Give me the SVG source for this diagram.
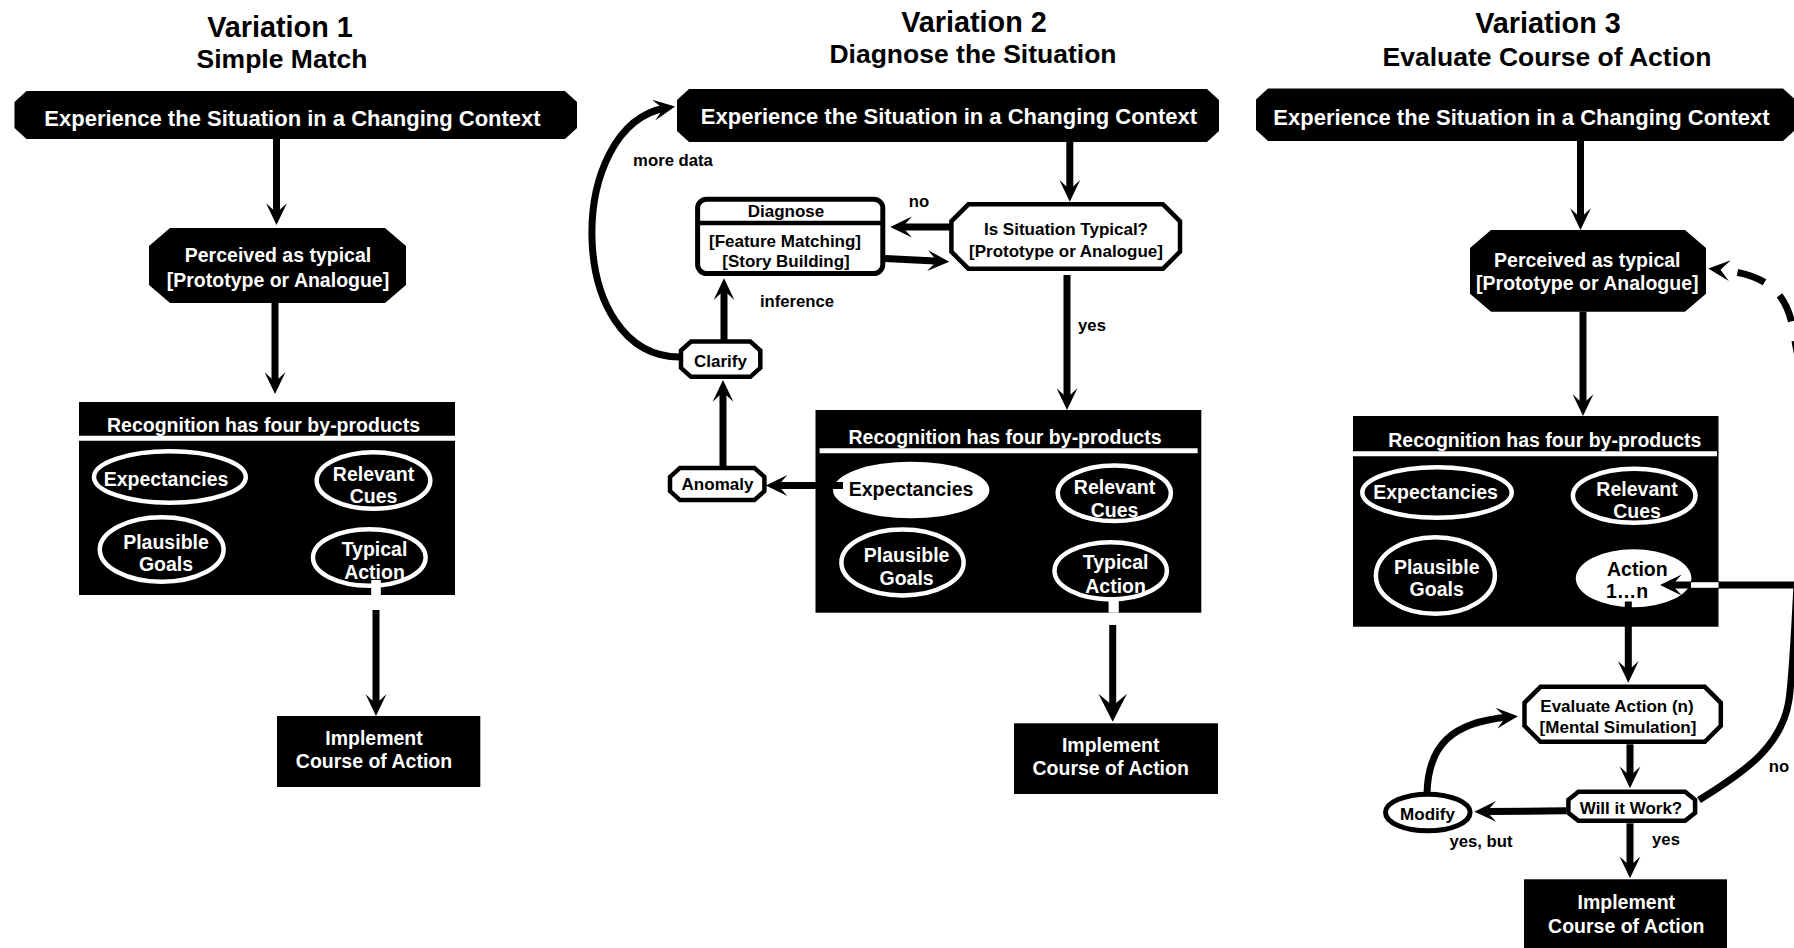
<svg xmlns="http://www.w3.org/2000/svg" width="1794" height="948" viewBox="0 0 1794 948">
<style>
text{font-family:"Liberation Sans",Arial,Helvetica,sans-serif;font-weight:bold;text-anchor:middle}
.t1{font-size:28.8px;fill:#000}
.t2{font-size:26.5px;fill:#000}
.tb{font-size:22px;fill:#fff}
.w{font-size:19.5px;fill:#fff}
.k{font-size:19.5px;fill:#000}
.s{font-size:17px;fill:#000}
.e{font-size:16.7px;fill:#000}
.blk{fill:#000}
.oct{fill:#fff;stroke:#000;stroke-width:4.5}
.ov{fill:#000;stroke:#fff;stroke-width:4.5}
.wf{fill:#fff}
.sep{stroke:#fff;stroke-width:5}
.c{fill:none;stroke:#000;stroke-width:7}
.cw{fill:none;stroke:#fff}
</style>
<defs>
<marker id="ah" markerUnits="userSpaceOnUse" viewBox="-13 -11 23 22" markerWidth="23" markerHeight="22" refX="0" refY="0" orient="auto-start-reverse"><path d="M9.3,0 L-12.4,-10.4 L-3,0 L-12.4,10.4 Z" fill="#000"/></marker>
<marker id="ahL" markerUnits="userSpaceOnUse" viewBox="-17 -15 30 30" markerWidth="30" markerHeight="30" refX="0" refY="0" orient="auto"><path d="M12,0 L-16,-14.3 L-4,0 L-16,14.3 Z" fill="#000"/></marker>
</defs>

<g id="titles">
<text class="t1" x="280" y="37">Variation 1</text>
<text class="t2" x="282" y="68">Simple Match</text>
<text class="t1" x="974" y="32">Variation 2</text>
<text class="t2" x="973" y="63">Diagnose the Situation</text>
<text class="t1" x="1548" y="33">Variation 3</text>
<text class="t2" x="1547" y="66">Evaluate Course of Action</text>
</g>

<!-- Variation 1 -->
<g id="v1-experience">
<polygon class="blk" points="26.5,91 565,91 577,102 577,128 565,139 26.5,139 14.5,128 14.5,102"/>
<text class="tb" x="292.5" y="126">Experience the Situation in a Changing Context</text>
</g>
<g id="v1-perceived">
<polygon class="blk" points="170,228 385,228 406,246 406,285 385,303 170,303 149,285 149,246"/>
<text class="w" x="278" y="262">Perceived as typical</text>
<text class="w" x="278" y="287">[Prototype or Analogue]</text>
</g>
<g id="v1-recognition">
<rect class="blk" x="79" y="402" width="376" height="193"/>
<line class="sep" x1="79" y1="438.2" x2="455" y2="438.2"/>
<text class="w" x="263.5" y="431.7">Recognition has four by-products</text>
<ellipse class="ov" cx="169.9" cy="477" rx="75.9" ry="25.8"/>
<text class="w" x="166" y="486">Expectancies</text>
<ellipse class="ov" cx="373.5" cy="480.5" rx="56.8" ry="28.3"/>
<text class="w" x="373.5" y="481">Relevant</text>
<text class="w" x="373.5" y="503">Cues</text>
<ellipse class="ov" cx="161.7" cy="549.5" rx="61.9" ry="32.3"/>
<text class="w" x="166" y="549">Plausible</text>
<text class="w" x="166" y="571">Goals</text>
<ellipse class="ov" cx="369.3" cy="557.5" rx="56.3" ry="28.3"/>
<text class="w" x="374.5" y="556">Typical</text>
<text class="w" x="374.5" y="579">Action</text>
</g>
<g id="v1-implement">
<rect class="blk" x="277" y="716" width="203.3" height="71"/>
<text class="w" x="374" y="745">Implement</text>
<text class="w" x="374" y="768">Course of Action</text>
</g>

<!-- Variation 2 -->
<g id="v2-experience">
<polygon class="blk" points="689,89 1207,89 1219,100 1219,131 1207,142 689,142 677,131 677,100"/>
<text class="tb" x="949" y="123.5">Experience the Situation in a Changing Context</text>
</g>
<g id="v2-typical">
<polygon class="oct" stroke-width="4" points="968.4,204.3 1163,204.3 1180,221.3 1180,251.7 1163,268.7 968.4,268.7 951.4,251.7 951.4,221.3"/>
<text class="s" x="1066" y="235">Is Situation Typical?</text>
<text class="s" x="1066" y="256.7">[Prototype or Analogue]</text>
</g>
<g id="v2-diagnose">
<rect x="697.6" y="199.2" width="185.2" height="74.3" rx="9" fill="#fff" stroke="#000" stroke-width="5"/>
<line x1="697.6" y1="223" x2="882.8" y2="223" stroke="#000" stroke-width="4.5"/>
<text class="s" x="786" y="217">Diagnose</text>
<text class="s" x="785" y="246.7">[Feature Matching]</text>
<text class="s" x="786" y="266.7">[Story Building]</text>
</g>
<g id="v2-clarify">
<polygon class="oct" points="691,341.5 750.3,341.5 760.3,350.5 760.3,367.8 750.3,376.8 691,376.8 681,367.8 681,350.5"/>
<text class="s" x="720.5" y="366.7">Clarify</text>
</g>
<g id="v2-anomaly">
<polygon class="oct" points="680,467.9 754.4,467.9 764.4,476.9 764.4,491.1 754.4,500.1 680,500.1 670,491.1 670,476.9"/>
<text class="s" x="717.5" y="490">Anomaly</text>
</g>
<g id="v2-recognition">
<rect class="blk" x="815.5" y="410" width="385.8" height="202.7"/>
<line class="sep" x1="819.6" y1="450.8" x2="1197.6" y2="450.8"/>
<text class="w" x="1005" y="444.3">Recognition has four by-products</text>
<ellipse class="wf" cx="911.2" cy="490" rx="78.2" ry="28.3"/>
<text class="k" x="911" y="496">Expectancies</text>
<ellipse class="ov" cx="1114.3" cy="493.3" rx="56.6" ry="27.8"/>
<text class="w" x="1114.5" y="494">Relevant</text>
<text class="w" x="1114.5" y="516.7">Cues</text>
<ellipse class="ov" cx="902.5" cy="562.5" rx="61.1" ry="33"/>
<text class="w" x="906.6" y="561.7">Plausible</text>
<text class="w" x="906.6" y="585">Goals</text>
<ellipse class="ov" cx="1110.7" cy="570.8" rx="56.2" ry="28.6"/>
<text class="w" x="1115.6" y="569.3">Typical</text>
<text class="w" x="1115.6" y="592.7">Action</text>
</g>
<g id="v2-implement">
<rect class="blk" x="1014" y="723.3" width="204" height="70.7"/>
<text class="w" x="1110.7" y="751.7">Implement</text>
<text class="w" x="1110.7" y="775">Course of Action</text>
</g>

<!-- Variation 3 -->
<g id="v3-experience">
<polygon class="blk" points="1268,88.5 1783,88.5 1795,99.5 1795,130 1783,141 1268,141 1256,130 1256,99.5"/>
<text class="tb" x="1521.5" y="125">Experience the Situation in a Changing Context</text>
</g>
<g id="v3-perceived">
<polygon class="blk" points="1491,230 1685,230 1706,248 1706,293.7 1685,311.7 1491,311.7 1470,293.7 1470,248"/>
<text class="w" x="1587.3" y="266.7">Perceived as typical</text>
<text class="w" x="1587.3" y="290">[Prototype or Analogue]</text>
</g>
<g id="v3-recognition">
<rect class="blk" x="1353" y="416" width="365.5" height="210.7"/>
<line class="sep" x1="1353" y1="453.8" x2="1717" y2="453.8"/>
<text class="w" x="1544.8" y="447.3">Recognition has four by-products</text>
<ellipse class="ov" cx="1437" cy="492.5" rx="74.7" ry="25.3"/>
<text class="w" x="1435.5" y="499.3">Expectancies</text>
<ellipse class="ov" cx="1634.2" cy="495.8" rx="61.3" ry="27"/>
<text class="w" x="1637" y="496">Relevant</text>
<text class="w" x="1637" y="518.3">Cues</text>
<ellipse class="ov" cx="1435.4" cy="575.5" rx="59.5" ry="38.3"/>
<text class="w" x="1436.7" y="574.3">Plausible</text>
<text class="w" x="1436.7" y="596">Goals</text>
<ellipse class="wf" cx="1633.6" cy="578.3" rx="57.8" ry="29"/>
<text class="k" x="1607" y="576" style="text-anchor:start">Action</text>
<text class="k" x="1606" y="598.3" style="text-anchor:start">1…n</text>
</g>
<g id="v3-evaluate">
<polygon class="oct" stroke-width="5" points="1540.5,686.8 1704.8,686.8 1720.8,702.8 1720.8,725.8 1704.8,741.8 1540.5,741.8 1524.5,725.8 1524.5,702.8"/>
<text class="s" x="1617" y="711.7">Evaluate Action (n)</text>
<text class="s" x="1618" y="732.7">[Mental Simulation]</text>
</g>
<g id="v3-willitwork">
<polygon class="oct" stroke-width="5" points="1578.4,791.8 1685.1,791.8 1695.1,799.8 1695.1,812.8 1685.1,820.8 1578.4,820.8 1568.4,812.8 1568.4,799.8"/>
<text class="s" x="1631" y="814">Will it Work?</text>
</g>
<g id="v3-modify">
<ellipse cx="1427.8" cy="812.5" rx="42.3" ry="18.3" fill="#fff" stroke="#000" stroke-width="5"/>
<text class="s" x="1427.5" y="820">Modify</text>
</g>
<g id="v3-implement">
<rect class="blk" x="1524" y="879.3" width="203" height="70"/>
<text class="w" x="1626.3" y="909.3">Implement</text>
<text class="w" x="1626.3" y="932.7">Course of Action</text>
</g>

<g id="connectors">
<!-- V1 -->
<path class="c" d="M276.5,139 L276.5,215.7" marker-end="url(#ah)"/>
<path class="c" d="M275,303 L275,384.7" marker-end="url(#ah)"/>
<path class="cw" stroke-width="9.6" d="M376,580 L376,595"/>
<path class="c" d="M376,610 L376,706.7" marker-end="url(#ah)"/>
<!-- V2 -->
<path class="c" d="M1069.8,142 L1069.8,192.4" marker-end="url(#ah)"/>
<path class="c" stroke-width="8" d="M951,227 L899.5,227" marker-end="url(#ah)"/>
<path class="c" stroke-width="9" d="M885,258.5 L940,261.2" marker-end="url(#ah)"/>
<path class="c" d="M1067,275 L1067,400.7" marker-end="url(#ah)"/>
<path class="c" stroke-width="6.5" d="M843,485.5 L775,485.5" marker-end="url(#ah)"/>
<path class="c" d="M723,467 L723,389.3" marker-end="url(#ah)"/>
<path class="c" d="M724,340 L724,287.6" marker-end="url(#ah)"/>
<path class="c" stroke-width="6" d="M680,357 C565,357 565,125 666,108" marker-end="url(#ah)"/>
<path class="cw" stroke-width="10.2" d="M1113.7,597 L1113.7,612.7"/>
<path class="c" stroke-width="9" d="M1112.7,625 L1112.7,709.7" marker-end="url(#ahL)"/>
<text class="e" x="673" y="165.7">more data</text>
<text class="e" x="919" y="207.3">no</text>
<text class="e" x="797" y="306.7">inference</text>
<text class="e" x="1092" y="331">yes</text>
<!-- V3 -->
<path class="c" d="M1580.5,141 L1580.5,220.7" marker-end="url(#ah)"/>
<path class="c" d="M1583,311.7 L1583,406.7" marker-end="url(#ah)"/>
<path class="c" stroke-width="6.7" d="M1628.3,601.5 L1628.3,673.4" marker-end="url(#ah)"/>
<path class="c" stroke-width="8" d="M1630,744.3 L1630,779" marker-end="url(#ah)"/>
<path class="c" stroke-width="8" d="M1630,823.3 L1630,869" marker-end="url(#ah)"/>
<path class="c" d="M1566,810.7 L1483.7,811.6" marker-end="url(#ah)"/>
<path class="c" d="M1427,794 C1428,745 1452,722 1508.7,717" marker-end="url(#ah)"/>
<path class="c" stroke-width="6.6" d="M1699,800 C1748,770 1782,745 1789,700 C1793,670 1795,620 1797,585 L1669.3,585" marker-end="url(#ah)"/>
<path class="cw" stroke-width="5.6" d="M1691,585 L1718.5,585"/>
<path class="c" stroke-dasharray="29 20" stroke-dashoffset="29" d="M1717.5,269.5 C1765,274 1788,290 1794,335 Q1797,355 1808,400" marker-start="url(#ah)"/>
<text class="e" x="1779" y="771.7">no</text>
<text class="e" x="1481" y="847.3">yes, but</text>
<text class="e" x="1666" y="845">yes</text>
</g>
</svg>
